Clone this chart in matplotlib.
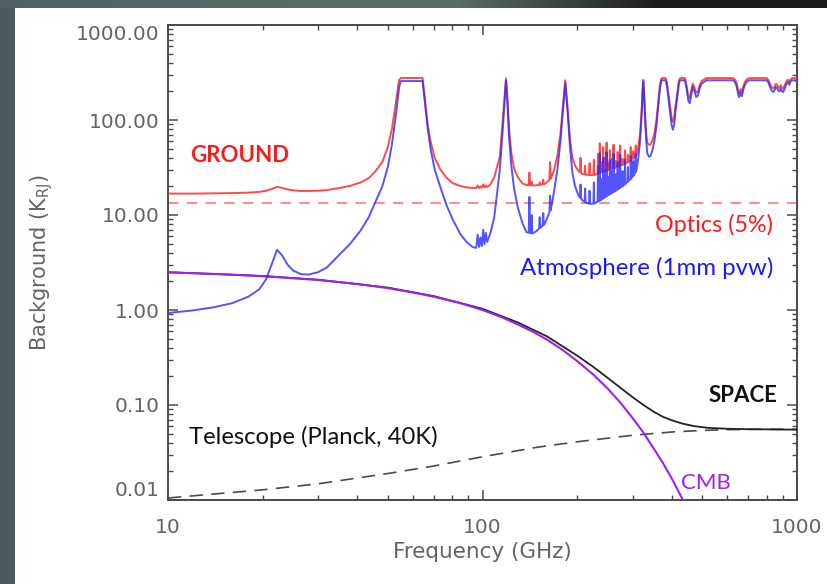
import numpy as np
import matplotlib
matplotlib.use("Agg")
import matplotlib.pyplot as plt
from matplotlib.patches import Rectangle
from matplotlib.ticker import LogLocator, FixedLocator, FixedFormatter, NullFormatter

# ---------------- data ----------------
# Atmosphere (1 mm pwv) and GROUND total, same frequency grid (GHz, K_RJ)
atm_freq = [
    10, 12, 14, 16, 18, 19.5, 20.5, 21.5, 22.2, 23.0, 24.0, 25.0, 26.5, 28.0, 30.0, 32.0,
    35.0, 38.0, 41.0, 43.5, 45.5, 48.0, 50.0, 51.5, 53.0, 54.3, 55.0, 64.5, 65.6, 67.0,
    68.5, 70.5, 73.5, 77.0, 80.5, 85.0, 89.0, 93.0, 95.5, 96.5, 97.5, 98.5, 99.5, 100.5,
    101.5, 102.5, 103.5, 106.0, 109.0, 111.5, 113.5, 116.0, 117.7, 118.75, 119.8, 121.5,
    123.5, 126.0, 129.5, 134.0, 138.0, 140.3, 141.0, 141.7, 142.6, 143.3, 144.0, 148.0,
    151.3, 152.0, 152.7, 155.3, 156.0, 156.7, 160.0, 163.3, 164.0, 164.7, 166.5, 169.0,
    173.0, 177.0, 180.0, 183.3, 186.5, 189.5, 193.0, 197.0, 202.0, 204.3, 205.0, 205.7,
    208.0, 211.3, 212.0, 212.7, 215.0, 218.3, 219.0, 219.7, 222.0, 225.3, 226.0, 226.7,
    229.0, 231.0,
    232.3, 233.0, 233.7, 235.3, 236.0, 236.7, 238.3, 239.0, 239.7, 241.3, 242.0, 242.7,
    244.3, 245.0, 245.7, 247.3, 248.0, 248.7, 250.3, 251.0, 251.7, 253.3, 254.0, 254.7,
    256.3, 257.0, 257.7, 260.3, 261.0, 261.7, 264.3, 265.0, 265.7, 268.3, 269.0, 269.7,
    273.3, 274.0, 274.7, 278.3, 279.0, 279.7, 283.3, 284.0, 284.7, 289.3, 290.0, 290.7,
    295.3, 296.0, 296.7, 301.3, 302.0, 302.7, 306.3, 307.0, 307.7,
    309, 313, 317, 320.5, 323, 324.5, 326, 328.5, 331, 334, 338, 342, 347, 352, 357, 362,
    367, 371, 382, 386, 390, 395, 399, 403, 407, 411, 416, 421, 425, 440, 446, 451, 456,
    461, 466, 472, 478, 484, 490, 497, 505, 515, 626, 635, 643, 650, 655, 662, 668, 675,
    685, 695, 705, 800, 810, 820, 830, 840, 848, 856, 864, 872, 880, 888, 896, 904, 915,
    925, 935, 945, 955, 965, 980, 990, 1000,
]
atm_temp = [
    0.93, 0.99, 1.07, 1.18, 1.38, 1.65, 2.1, 3.2, 4.3, 3.8, 3.0, 2.6, 2.38, 2.36, 2.5, 2.8,
    3.8, 5.0, 6.9, 9.5, 13.4, 20.0, 32.0, 55.0, 110.0, 220.0, 257.0, 257.0, 151.0, 80.0,
    48.0, 30.0, 19.5, 12.5, 8.9, 6.3, 5.2, 4.6, 4.5, 6.2, 4.6, 5.8, 4.7, 7.0,
    4.9, 6.5, 5.2, 6.5, 9.5, 18.0, 30.0, 80.0, 170.0, 260.0, 170.0, 65.0,
    33.0, 19.0, 12.0, 8.2, 6.6, 6.5, 15.5, 6.5, 6.4, 10.0, 6.4, 6.7,
    7.2, 9.5, 7.3, 7.7, 10.5, 7.8, 9.0, 10.8, 16.0, 11.2, 13.5, 18.0,
    30.0, 60.0, 120.0, 245.0, 120.0, 55.0, 28.0, 20.0, 16.0, 15.2, 21.0, 15.0,
    14.2, 13.8, 19.0, 13.7, 13.3, 13.2, 18.0, 13.2, 13.1, 13.2, 22.0, 13.2,
    13.4, 13.7,
    13.9, 33.0, 13.9, 14.2, 45.0, 14.2, 14.6, 24.0, 14.6, 15.0, 40.0, 15.0,
    15.4, 30.0, 15.4, 15.8, 46.0, 15.8, 16.2, 25.0, 16.2, 16.6, 38.0, 16.6,
    17.0, 29.0, 17.0, 17.5, 44.0, 17.5, 18.0, 27.0, 18.0, 18.6, 36.0, 18.6,
    19.4, 43.0, 19.4, 20.2, 29.0, 20.2, 21.2, 38.0, 21.2, 22.5, 32.0, 22.5,
    24.0, 42.0, 24.0, 26.0, 37.0, 26.0, 28.5, 44.0, 28.5,
    30, 40, 60, 110, 200, 251, 200, 110, 65, 45, 41, 42, 48, 60, 84, 140,
    220, 262, 262, 230, 170, 120, 90, 79, 90, 125, 170, 240, 262, 262, 210, 160, 150,
    185, 225, 200, 175, 180, 215, 240, 250, 262, 262, 250, 225, 185, 174, 195, 178, 210,
    240, 255, 262, 262, 250, 225, 205, 197, 205, 222, 218, 205, 200, 215, 200, 197, 215,
    240, 251, 235, 255, 262, 262, 258, 265,
]
ground_temp = [
    16.8, 16.8, 16.9, 17.0, 17.2, 17.5, 18.0, 18.9, 19.8, 19.3, 18.6, 18.2, 17.9, 17.9, 18.0, 18.3,
    19.2, 20.3, 22.0, 24.5, 28.5, 36.0, 52.0, 80.0, 150.0, 264.0, 277.0, 277.0, 165.0, 88.0,
    58.0, 40.0, 30.0, 24.5, 21.6, 20.2, 19.5, 19.3, 19.2, 20.5, 19.2, 20.0, 19.3, 21.0,
    19.5, 20.5, 19.7, 21.0, 25.0, 33.0, 41.0, 100.0, 190.0, 275.0, 190.0, 80.0,
    45.0, 31.0, 25.0, 21.5, 20.7, 20.6, 28.0, 20.6, 20.5, 22.5, 20.5, 20.5,
    20.8, 22.0, 20.8, 21.0, 23.5, 21.0, 22.0, 23.5, 36.0, 24.0, 26.0, 30.0,
    42.0, 72.0, 133.0, 262.0, 133.0, 66.0, 40.0, 33.0, 29.0, 28.2, 40.0, 28.0,
    27.0, 26.8, 33.0, 26.7, 26.5, 26.4, 35.0, 26.4, 26.3, 26.4, 38.0, 26.4,
    26.6, 27.0,
    27.5, 44.0, 27.5, 27.8, 57.0, 27.8, 28.2, 36.0, 28.2, 28.6, 52.0, 28.6,
    29.0, 40.0, 29.0, 29.4, 58.0, 29.4, 29.8, 35.0, 29.8, 30.2, 48.0, 30.2,
    30.6, 39.0, 30.6, 31.1, 55.0, 31.1, 31.6, 37.0, 31.6, 32.2, 46.0, 32.2,
    33.0, 54.0, 33.0, 33.8, 39.0, 33.8, 34.8, 48.0, 34.8, 36.0, 43.0, 36.0,
    37.5, 52.0, 37.5, 39.5, 47.0, 39.5, 42.0, 54.0, 42.0,
    43.5, 52, 72, 125, 215, 265, 215, 122, 77, 58, 55, 55, 61, 72, 98, 155,
    240, 276, 276, 248, 188, 140, 108, 95, 108, 142, 188, 258, 276, 276, 228, 178, 170,
    205, 242, 218, 193, 198, 232, 256, 266, 276, 276, 266, 243, 203, 192, 212, 195, 228,
    256, 270, 276, 276, 266, 243, 222, 215, 222, 240, 236, 222, 218, 233, 218, 215, 233,
    256, 266, 252, 270, 276, 276, 274, 278,
]

optics_level = 13.5  # Optics (5%)

cmb_freq = [10, 15, 20, 30, 40, 50, 60, 70, 85, 100, 115, 130, 145, 160, 180, 200,
            225, 250, 275, 300, 325, 350, 375, 400, 415, 440, 450]
cmb_temp = [2.49, 2.38, 2.27, 2.07, 1.88, 1.70, 1.53, 1.38, 1.18, 1.00, 0.84, 0.70,
            0.587, 0.49, 0.379, 0.29, 0.209, 0.149, 0.105, 0.073, 0.0511, 0.035,
            0.0244, 0.0168, 0.0133, 0.0091, 0.0078]

telescope_freq = [10, 20, 30, 50, 70, 100, 150, 200, 300, 400, 500, 600, 700, 1000]
telescope_temp = [0.0105, 0.0128, 0.0148, 0.019, 0.0228, 0.0285, 0.036, 0.041, 0.048,
                  0.052, 0.054, 0.055, 0.0555, 0.0555]

space_freq = [10, 20, 30, 50, 70, 100, 130, 160, 200, 225, 250, 275, 300, 325, 350,
              375, 400, 430, 470, 520, 600, 700, 850, 1000]
space_temp = [2.50, 2.28, 2.085, 1.72, 1.40, 1.03, 0.735, 0.53, 0.331, 0.252, 0.193,
              0.151, 0.121, 0.100, 0.085, 0.075, 0.069, 0.064, 0.060, 0.0575, 0.0562,
              0.0556, 0.0553, 0.0550]

x_ticks = [10, 100, 1000]
x_tick_labels = ["10", "100", "1000"]
y_ticks = [0.01, 0.1, 1, 10, 100, 1000]
y_tick_labels = ["0.01", "0.10", "1.00", "10.00", "100.00", "1000.00"]

# ---------------- figure ----------------
W, H = 827, 584
fig = plt.figure(figsize=(W / 100, H / 100), dpi=100, facecolor="white")

# slide background strips
fig.add_artist(Rectangle((0, 0), 15 / W, 1, transform=fig.transFigure,
                         facecolor="#4a5c5f", edgecolor="none", zorder=0))
band = fig.add_axes([0, 1 - 8 / H, 1, 8 / H], zorder=0)
c0 = np.array([0.31, 0.39, 0.40])
c1 = np.array([0.36, 0.43, 0.40])
c2 = np.array([0.11, 0.11, 0.11])
t = np.linspace(0, 1, 300)
cols = np.where(t[:, None] < 0.55,
                c0 + (c1 - c0) * (t[:, None] / 0.55),
                c1 + (c2 - c1) * np.clip((t[:, None] - 0.55) / 0.25, 0, 1))
band.imshow(cols[None, :, :], aspect="auto", extent=[0, 1, 0, 1])
band.set_axis_off()

ax = fig.add_axes([168 / W, 1 - 500 / H, (797 - 168) / W, (500 - 25) / H])
ax.set_xscale("log")
ax.set_yscale("log")
ax.set_xlim(10, 1000)
ax.set_ylim(0.01, 1000)

# curves
ax.axhline(optics_level, color="#ff8c8c", lw=1.5, dashes=(5, 4), zorder=2)
ax.plot(telescope_freq, telescope_temp, color="#4a4a4a", lw=1.2, dashes=(8, 5), zorder=3)
ax.plot(space_freq, space_temp, color="#222222", lw=1.3, zorder=3)
ax.plot(cmb_freq, cmb_temp, color="#a020f0", lw=1.5, zorder=4)
ax.plot(atm_freq, ground_temp, color="#ff2a2a", lw=1.4, alpha=0.85, zorder=5)
ax.plot(atm_freq, atm_temp, color="#2a2aff", lw=1.4, alpha=0.8, zorder=6)

# axes styling (IDL-like)
for s in ax.spines.values():
    s.set_color("#4a4a4a")
    s.set_linewidth(1.4)
ax.tick_params(which="both", direction="in", top=True, right=True,
               colors="#4a4a4a", labelcolor="#646464")
ax.tick_params(which="major", length=7, width=1.1, labelsize=14.5)
ax.tick_params(which="minor", length=3.5, width=1.0)
ax.tick_params(axis="y", which="major", pad=6)
ax.tick_params(axis="x", which="major", pad=13)

ax.xaxis.set_major_locator(FixedLocator(x_ticks))
ax.xaxis.set_major_formatter(FixedFormatter(x_tick_labels))
ax.xaxis.set_minor_locator(LogLocator(base=10, subs=np.arange(2, 10), numticks=20))
ax.xaxis.set_minor_formatter(NullFormatter())
ax.yaxis.set_major_locator(FixedLocator(y_ticks))
ax.yaxis.set_major_formatter(FixedFormatter(y_tick_labels))
ax.yaxis.set_minor_locator(LogLocator(base=10, subs=np.arange(2, 10), numticks=20))
ax.yaxis.set_minor_formatter(NullFormatter())

ylabels = ax.get_yticklabels()
ylabels[0].set_va("bottom")
ylabels[-1].set_va("top")

ax.set_xlabel("Frequency (GHz)", fontsize=15.5, color="#646464")
ax.xaxis.label.set_va("center")
ax.xaxis.set_label_coords(0.5, -(552 - 500) / 475)
ax.set_ylabel("Background (K$_{\\mathrm{RJ}}$)", fontsize=15, color="#646464")
ax.yaxis.label.set_va("center")
ax.yaxis.set_label_coords((42 - 168) / 629, 0.5)

# annotations
fam = ["Lato", "DejaVu Sans"]
def put(x, y, s, color, ha="left", weight="normal", size=16):
    fig.text(x / W, 1 - y / H, s, color=color, ha=ha, va="center",
             fontsize=size, fontweight=weight, family=fam, zorder=10)

put(190, 155, "GROUND", "#ff1a1a", weight="bold")
put(773, 225, "Optics (5%)", "#ff1a1a", ha="right", size=16.8)
put(773, 268, "Atmosphere (1mm pvw)", "#1a1aff", ha="right", size=17.3)
put(777, 396, "SPACE", "#111111", ha="right", weight="bold")
put(189, 437, "Telescope (Planck, 40K)", "#111111", size=17.2)
put(681, 483, "CMB", "#a020f0")

fig.savefig("out.png", dpi=100, facecolor="white")
